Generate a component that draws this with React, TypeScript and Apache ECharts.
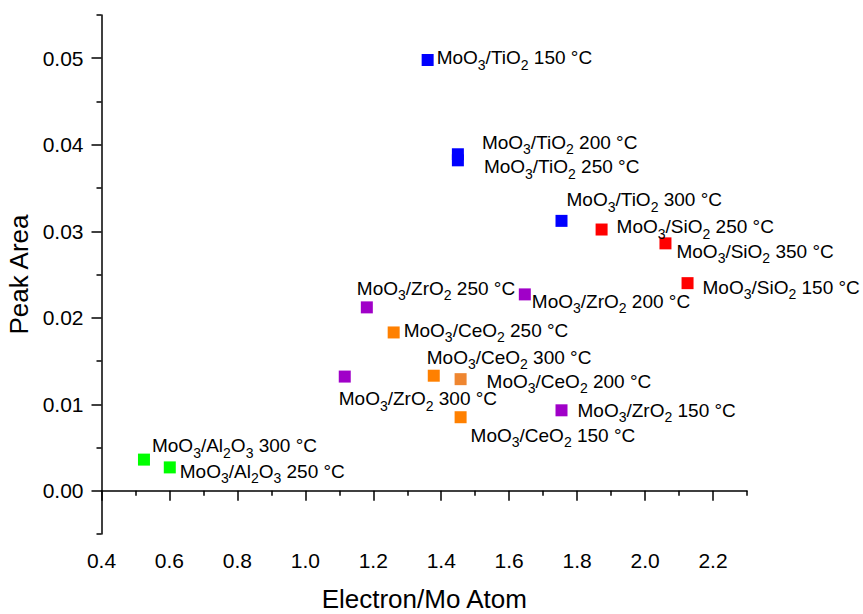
import React, { useEffect, useRef } from "react";
import * as echarts from "echarts";

// ---- data ----
const tio2X = [1.36, 1.449, 1.449, 1.754];
const tio2Y = [0.0498, 0.0389, 0.0382, 0.0312];
const tio2Temps = [150, 200, 250, 300];

const sio2X = [1.872, 2.06, 2.125];
const sio2Y = [0.0302, 0.0286, 0.024];
const sio2Temps = [250, 350, 150];

const zro2X = [1.181, 1.646, 1.116, 1.754];
const zro2Y = [0.0212, 0.0227, 0.0132, 0.0093];
const zro2Temps = [250, 200, 300, 150];

const ceo2X = [1.26, 1.378, 1.457, 1.457];
const ceo2Y = [0.0183, 0.0133, 0.0129, 0.0085];
const ceo2Temps = [250, 300, 200, 150];

const al2o3X = [0.525, 0.601];
const al2o3Y = [0.0036, 0.0027];
const al2o3Temps = [300, 250];

// tick values
const xMajorTicks = [0.4, 0.6, 0.8, 1.0, 1.2, 1.4, 1.6, 1.8, 2.0, 2.2];
const xMinorTicks = [0.5, 0.7, 0.9, 1.1, 1.3, 1.5, 1.7, 1.9, 2.1, 2.3];
const yMajorTicks = [0, 0.01, 0.02, 0.03, 0.04, 0.05];
const yMinorTicks = [-0.005, 0.005, 0.015, 0.025, 0.035, 0.045, 0.055];

// ---- label placement (layout, px offsets) ----
const tio2Dx = [3, 18, 20, -1];
const tio2Dy = [-2, -12, 6.5, -21];
const sio2Dx = [9, 5, 9];
const sio2Dy = [-3, 8, 4];
const zro2Dx = [-16, 1, -12, 10];
const zro2Dy = [-19, 7, 22, 0];
const ceo2Dx = [4, -13, 20, 4];
const ceo2Dy = [-2, -18.5, 2, 18];
const al2o3Dx = [2, 4];
const al2o3Dy = [-14, 4];

const FONT = '"Liberation Sans", Arial, Helvetica, sans-serif';

function makeSeries(
  name: string,
  color: string,
  support: string,
  xs: number[],
  ys: number[],
  temps: number[],
  dxs: number[],
  dys: number[],
  overrides: Record<number, string> = {}
) {
  return {
    name,
    type: "scatter",
    xAxisIndex: 0,
    yAxisIndex: 0,
    symbol: "rect",
    symbolSize: 12,
    itemStyle: { color, opacity: 1 },
    data: xs.map((x, i) => ({
      value: [x, ys[i]],
      itemStyle: overrides[i] ? { color: overrides[i] } : undefined,
      label: {
        offset: [dxs[i], dys[i]],
        formatter: `{n|MoO}{s|3}{n|/${support}}{n| ${temps[i]} °C}`,
      },
    })),
    label: {
      show: true,
      position: "right",
      distance: 0,
      align: "left",
      verticalAlign: "middle",
      color: "#000",
      fontFamily: FONT,
      fontSize: 19,
      rich: {
        n: { fontSize: 19, fontFamily: FONT, color: "#000" },
        s: { fontSize: 14, fontFamily: FONT, color: "#000", padding: [7, 0, -7, 0] },
      },
    },
    emphasis: { disabled: true },
  };
}

// support texts with subscripts (rich tokens)
const TIO2 = "TiO}{s|2}{n|";
const SIO2 = "SiO}{s|2}{n|";
const ZRO2 = "ZrO}{s|2}{n|";
const CEO2 = "CeO}{s|2}{n|";
const AL2O3 = "Al}{s|2}{n|O}{s|3}{n|";

export default function App() {
  const ref = useRef<HTMLDivElement>(null);
  useEffect(() => {
    if (!ref.current) return;
    const chart = echarts.init(ref.current, null, { renderer: "svg" });
    const axisLine = { show: true, lineStyle: { color: "#000", width: 1.5 } };
    chart.setOption({
      animation: false,
      backgroundColor: "#fff",
      grid: { left: 101.5, right: 116, top: 15, bottom: 80, containLabel: false, outerBoundsMode: "none" },
      xAxis: [
        {
          type: "value",
          position: "bottom",
          min: 0.4,
          max: 2.3,
          axisLine,
          axisTick: { show: true, inside: false, length: 10, customValues: xMajorTicks, lineStyle: { color: "#000", width: 1.5 } },
          axisLabel: {
            customValues: xMajorTicks,
            formatter: (v: number) => v.toFixed(1),
            color: "#000",
            fontSize: 21,
            fontFamily: FONT,
            margin: 16,
          },
          splitLine: { show: false },
          name: "Electron/Mo Atom",
          nameLocation: "middle",
          nameGap: 52,
          nameTextStyle: { color: "#000", fontSize: 26, fontFamily: FONT },
        },
        {
          type: "value",
          position: "bottom",
          min: 0.4,
          max: 2.3,
          axisLine: { show: false },
          axisTick: { show: true, inside: false, length: 5, customValues: xMinorTicks, lineStyle: { color: "#000", width: 1.5 } },
          axisLabel: { show: false },
          splitLine: { show: false },
        },
      ],
      yAxis: [
        {
          type: "value",
          position: "left",
          min: -0.005,
          max: 0.055,
          axisLine,
          axisTick: { show: true, inside: false, length: 10, customValues: yMajorTicks, lineStyle: { color: "#000", width: 1.5 } },
          axisLabel: {
            customValues: yMajorTicks,
            formatter: (v: number) => v.toFixed(2),
            color: "#000",
            fontSize: 21,
            fontFamily: FONT,
            margin: 18,
          },
          splitLine: { show: false },
          name: "Peak Area",
          nameLocation: "middle",
          nameRotate: 90,
          nameGap: 61,
          nameTextStyle: { color: "#000", fontSize: 26, fontFamily: FONT },
        },
        {
          type: "value",
          position: "left",
          min: -0.005,
          max: 0.055,
          axisLine: { show: false },
          axisTick: { show: true, inside: false, length: 5, customValues: yMinorTicks, lineStyle: { color: "#000", width: 1.5 } },
          axisLabel: { show: false },
          splitLine: { show: false },
        },
      ],
      series: [
        makeSeries("TiO2", "#0000FF", TIO2, tio2X, tio2Y, tio2Temps, tio2Dx, tio2Dy),
        makeSeries("SiO2", "#FF0000", SIO2, sio2X, sio2Y, sio2Temps, sio2Dx, sio2Dy),
        makeSeries("ZrO2", "#A000C8", ZRO2, zro2X, zro2Y, zro2Temps, zro2Dx, zro2Dy),
        makeSeries("CeO2", "#FF8000", CEO2, ceo2X, ceo2Y, ceo2Temps, ceo2Dx, ceo2Dy, { 2: "#EF8630" }),
        makeSeries("Al2O3", "#00FF00", AL2O3, al2o3X, al2o3Y, al2o3Temps, al2o3Dx, al2o3Dy),
      ],
    });
    return () => chart.dispose();
  }, []);
  return (
    <div
      ref={ref}
      style={{ position: "fixed", left: 0, top: 0, width: 863, height: 614, background: "#fff" }}
    />
  );
}
